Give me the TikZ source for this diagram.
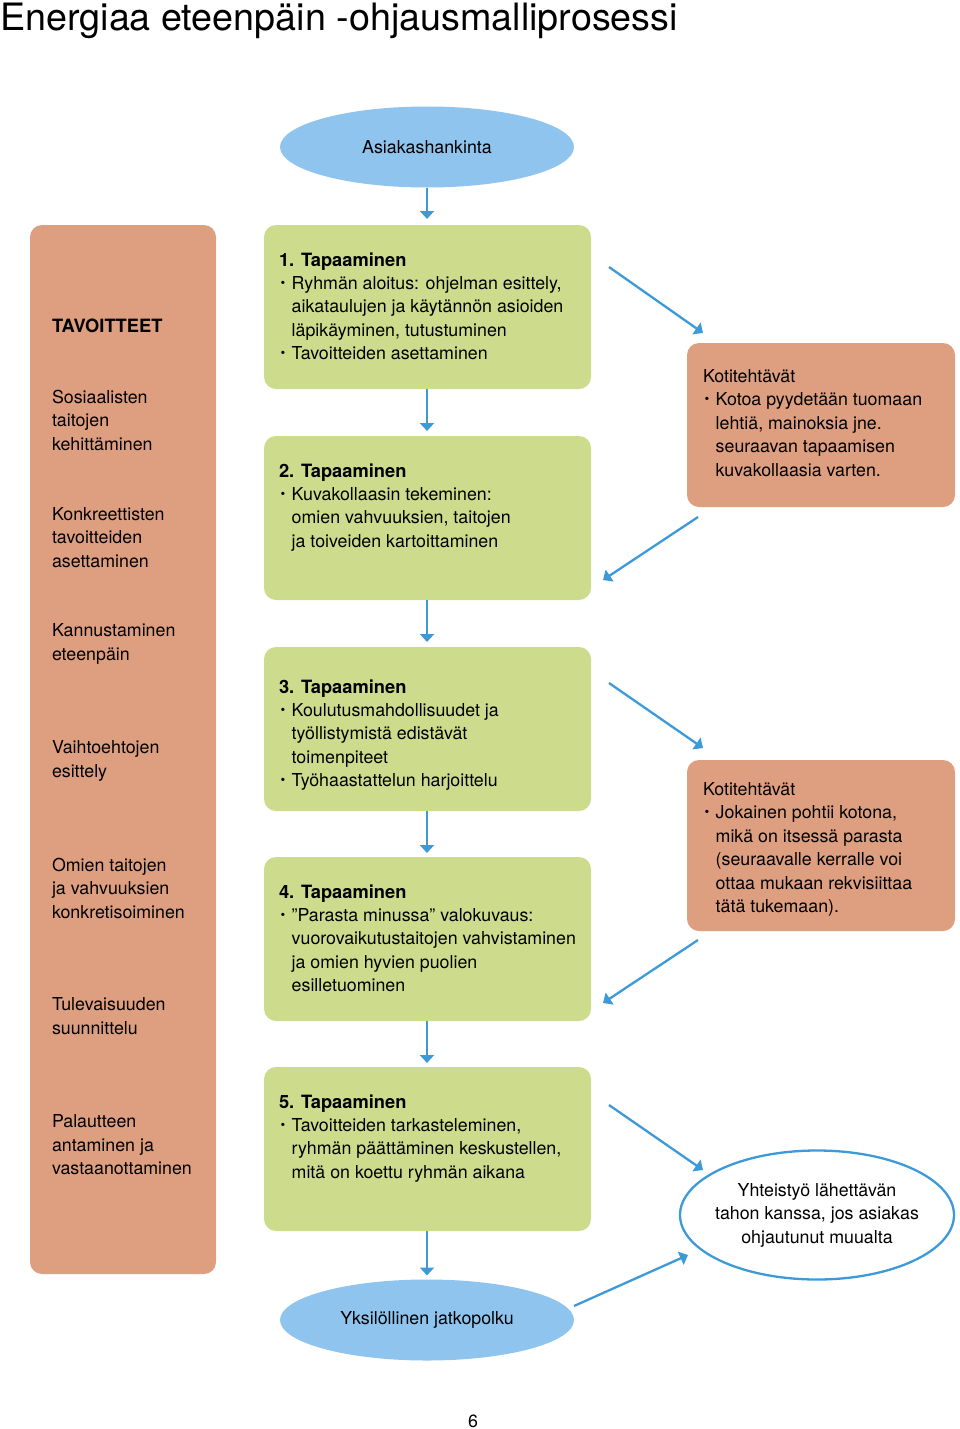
\documentclass[tikz,border=0pt]{standalone}
\usepackage{fontspec}
\usepackage{graphicx}
\setmainfont{TeX Gyre Heros}
\usetikzlibrary{arrows.meta,shapes.geometric}
\definecolor{gfill}{HTML}{CDDC8C}
\definecolor{ofill}{HTML}{DE9E80}
\definecolor{efill}{HTML}{8EC4EE}
\definecolor{ablue}{HTML}{3D9AD8}
\newcommand\bulx{\makebox[12.7pt][l]{\hspace{1.5pt}\raisebox{0.12em}{\scalebox{0.75}{\textbullet}}}}
\newcommand\indx{\hspace*{12.7pt}}
\newcommand\headx[1]{{\fontsize{18.3}{23.4}\selectfont\bfseries #1}}
\begin{document}
\begin{tikzpicture}[x=1pt,y=-1pt,
  gbox/.style={fill=gfill, rounded corners=12pt, draw=none, inner sep=0pt, outer sep=0pt, anchor=north west, minimum width=327pt, minimum height=164pt},
  obox/.style={fill=ofill, rounded corners=12pt, draw=none, inner sep=0pt, outer sep=0pt, anchor=north west},
  ebox/.style={ellipse, fill=efill, inner sep=0pt, outer sep=0pt, minimum width=294pt, minimum height=81pt, font=\fontsize{17.8}{23.4}\selectfont},
  conn/.style={draw=ablue, line width=2.3pt, -{Triangle[width=14pt,length=8pt]}},
  txt/.style={font=\fontsize{17.8}{23.4}\selectfont, align=left, inner sep=0pt, outer sep=0pt, anchor=north west, text=black}
]
\useasboundingbox (0,0) rectangle (960,1429);

% title
\node[anchor=base west, inner sep=0pt, font=\fontsize{37.7}{44}\selectfont] (title) at (0,31) {Energiaa eteenpäin -ohjausmalliprosessi};

% left column
\node[obox, minimum width=186pt, minimum height=1049pt] (L) at (30,225) {};
\node[txt] (l0) at (52,319) {\headx{TAVOITTEET}};
\node[txt] (l1) at (52,390) {Sosiaalisten\\taitojen\\kehittäminen};
\node[txt] (l2) at (52,507.5) {Konkreettisten\\tavoitteiden\\asettaminen};
\node[txt] (l3) at (52,624) {Kannustaminen\\eteenpäin};
\node[txt] (l4) at (52,741) {Vaihtoehtojen\\esittely};
\node[txt] (l5) at (52,858) {Omien taitojen\\ja vahvuuksien\\konkretisoiminen};
\node[txt] (l6) at (52,998) {Tulevaisuuden\\suunnittelu};
\node[txt] (l7) at (52,1115) {Palautteen\\antaminen ja\\vastaanottaminen};

% ellipses
\node[ebox] (a1) at (427,147) {Asiakashankinta};
\node[ebox] (a2) at (427,1320) {Yksilöllinen jatkopolku};

% green boxes
\node[gbox] (g1) at (264,225) {};
\node[gbox] (g2) at (264,436) {};
\node[gbox] (g3) at (264,647) {};
\node[gbox] (g4) at (264,857) {};
\node[gbox] (g5) at (264,1067) {};

\node[txt] (t1) at (279,252.5) {\headx{1. Tapaaminen}\\\bulx Ryhmän aloitus: ohjelman esittely,\\\indx aikataulujen ja käytännön asioiden\\\indx läpikäyminen, tutustuminen\\\bulx Tavoitteiden asettaminen};
\node[txt] (t2) at (279,463.5) {\headx{2. Tapaaminen}\\\bulx Kuvakollaasin tekeminen:\\\indx omien vahvuuksien, taitojen\\\indx ja toiveiden kartoittaminen};
\node[txt] (t3) at (279,679.5) {\headx{3. Tapaaminen}\\\bulx Koulutusmahdollisuudet ja\\\indx työllistymistä edistävät\\\indx toimenpiteet\\\bulx Työhaastattelun harjoittelu};
\node[txt] (t4) at (279,884.5) {\headx{4. Tapaaminen}\\\bulx ”Parasta minussa” valokuvaus:\\\indx vuorovaikutustaitojen vahvistaminen\\\indx ja omien hyvien puolien\\\indx esilletuominen};
\node[txt] (t5) at (279,1094.5) {\headx{5. Tapaaminen}\\\bulx Tavoitteiden tarkasteleminen,\\\indx ryhmän päättäminen keskustellen,\\\indx mitä on koettu ryhmän aikana};

% orange side boxes
\node[obox, minimum width=268pt, minimum height=164pt] (o1) at (687,343) {};
\node[obox, minimum width=268pt, minimum height=171pt] (o2) at (687,760) {};
\node[txt] (k1) at (703,369.5) {Kotitehtävät\\\bulx Kotoa pyydetään tuomaan\\\indx lehtiä, mainoksia jne.\\\indx seuraavan tapaamisen\\\indx kuvakollaasia varten.};
\node[txt] (k2) at (703,782.5) {Kotitehtävät\\\bulx Jokainen pohtii kotona,\\\indx mikä on itsessä parasta\\\indx (seuraavalle kerralle voi\\\indx ottaa mukaan rekvisiittaa\\\indx tätä tukemaan).};

% cooperation ellipse
\node[ellipse, draw=ablue, line width=2.3pt, fill=white, inner sep=0pt, minimum width=274pt, minimum height=129pt, font=\fontsize{17.8}{23.4}\selectfont] (y) at (817,1215) {\makebox[140pt]{\begin{tabular}{@{}c@{}}Yhteistyö lähettävän\\tahon kanssa, jos asiakas\\ohjautunut muualta\end{tabular}}};

% page number
\node[anchor=base, inner sep=0pt, font=\fontsize{17.8}{20}\selectfont] (pg) at (473,1427) {6};

% vertical connectors
\draw[conn, shorten >=6pt] (a1.south) -- (a1.south |- g1.north);
\draw[conn, shorten >=5pt] (g1.south -| a1.south) -- (g2.north -| a1.south);
\draw[conn, shorten >=5pt] (g2.south -| a1.south) -- (g3.north -| a1.south);
\draw[conn, shorten >=4pt] (g3.south -| a1.south) -- (g4.north -| a1.south);
\draw[conn, shorten >=4pt] (g4.south -| a1.south) -- (g5.north -| a1.south);
\draw[conn, shorten >=4pt] (g5.south -| a1.south) -- (a2.north);

% diagonal connectors
\coordinate (d1s) at (609,267); \coordinate (d1e) at (703,333);
\coordinate (d2s) at (698,517); \coordinate (d2e) at (603,580);
\coordinate (d3s) at (609,683); \coordinate (d3e) at (703,748);
\coordinate (d4s) at (698,940); \coordinate (d4e) at (603,1003);
\coordinate (d5s) at (609,1105); \coordinate (d5e) at (703,1170);
\coordinate (d6s) at (574,1306); \coordinate (d6e) at (688,1255);
\draw[conn] (d1s) -- (d1e);
\draw[conn] (d2s) -- (d2e);
\draw[conn] (d3s) -- (d3e);
\draw[conn] (d4s) -- (d4e);
\draw[conn] (d5s) -- (d5e);
\draw[conn] (d6s) -- (d6e);
\end{tikzpicture}
\end{document}
